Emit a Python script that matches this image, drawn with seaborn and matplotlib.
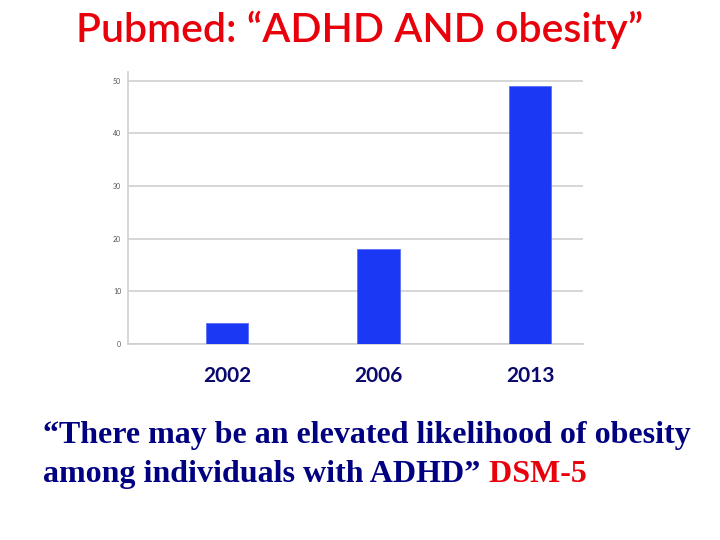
import matplotlib
matplotlib.use('Agg')
import matplotlib.pyplot as plt
import seaborn as sns
import pandas as pd
from matplotlib.ticker import FixedLocator

years = ['2002', '2006', '2013']
counts = [4, 18, 49]
yticks = [0, 10, 20, 30, 40, 50]

sns.set_style('white')
plt.rcParams['font.family'] = ['Lato', 'DejaVu Sans']

df = pd.DataFrame({'year': years, 'count': counts})

fig = plt.figure(figsize=(7.2, 5.4), dpi=100)
ax = fig.add_axes([0.178, 0.363, 0.632, 0.504])

sns.barplot(data=df, x='year', y='count', color='#1b38f4', width=0.28,
            saturation=1, edgecolor='#5a6ff8', linewidth=0.6, ax=ax, zorder=3)

# bars sit right of the category centres in the original
ax.set_xlim(-0.653, 2.35)
ax.set_ylim(0, 51.7)
ax.set_yticks(yticks)
ax.set_yticklabels([str(v) for v in yticks])
ax.yaxis.grid(True, color='#cfcfcf', linewidth=1.2, zorder=0)
ax.set_xlabel('')
ax.set_ylabel('')

for s in ['top', 'right']:
    ax.spines[s].set_visible(False)
for s in ['left', 'bottom']:
    ax.spines[s].set_color('#cfcfcf')
    ax.spines[s].set_linewidth(1.2)

ax.tick_params(axis='y', length=3, color='#cfcfcf', labelsize=5,
               labelcolor='#555555', pad=2)
ax.tick_params(axis='x', length=0, pad=16, labelsize=15, labelcolor='#0a0a6e')
for lbl in ax.get_xticklabels():
    lbl.set_fontweight('bold')
ax.xaxis.set_minor_locator(FixedLocator([0.356, 1.356]))
ax.tick_params(axis='x', which='minor', length=2, color='#cfcfcf', width=1)

fig.text(0.5, 0.922, 'Pubmed: \u201cADHD AND obesity\u201d', ha='center', va='baseline',
         color='#e8000b', fontsize=29.5, fontweight='semibold')

t1 = fig.text(0.06, 1 - 443 / 540, '\u201cThere may be an elevated likelihood of obesity',
              ha='left', va='baseline', color='#000080', fontsize=23,
              fontweight='bold', family=['Liberation Serif'])
t2 = fig.text(0.06, 1 - 482 / 540, 'among individuals with ADHD\u201d',
              ha='left', va='baseline', color='#000080', fontsize=23,
              fontweight='bold', family=['Liberation Serif'])
ax.annotate(' DSM-5', xy=(1, 0), xycoords=t2, ha='left', va='bottom',
            color='#e8000b', fontsize=23, fontweight='bold',
            family=['Liberation Serif'], annotation_clip=False)

fig.savefig('out.png', dpi=100, facecolor='white')
